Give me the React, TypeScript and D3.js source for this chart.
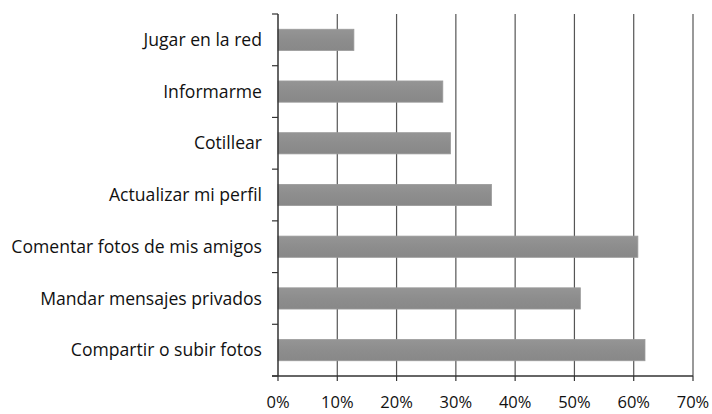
import React from "react";
import * as d3 from "d3";

const categories = [
  "Jugar en la red",
  "Informarme",
  "Cotillear",
  "Actualizar mi perfil",
  "Comentar fotos de mis amigos",
  "Mandar mensajes privados",
  "Compartir o subir fotos",
];
const values = [12.8, 27.8, 29.1, 36.0, 60.7, 51.0, 61.9];
const xTicks = [0, 10, 20, 30, 40, 50, 60, 70];

const W = 712;
const H = 414;
const margin = { left: 278, right: 19, top: 14, bottom: 38 };

export default function App() {
  const x = d3.scaleLinear().domain([0, 70]).range([margin.left, W - margin.right]);
  const y = d3
    .scaleBand<string>()
    .domain(categories)
    .range([margin.top, H - margin.bottom])
    .paddingInner(0.59)
    .paddingOuter(0.295);
  const step = y.step();
  const bottom = H - margin.bottom;
  const font = "'Open Sans', 'DejaVu Sans', sans-serif";

  return (
    <svg
      width={W}
      height={H}
      style={{ position: "absolute", left: 0, top: 0, background: "#fff" }}
    >
      <defs>
        <linearGradient id="barg" x1="0" y1="0" x2="0" y2="1">
          <stop offset="0" stopColor="#959595" />
          <stop offset="0.5" stopColor="#8d8d8d" />
          <stop offset="1" stopColor="#888888" />
        </linearGradient>
      </defs>
      {/* gridlines */}
      {xTicks.slice(1).map((t) => (
        <line
          key={"g" + t}
          x1={x(t)}
          x2={x(t)}
          y1={margin.top}
          y2={bottom}
          stroke="#555"
          strokeWidth={1.2}
        />
      ))}
      {/* bars */}
      {categories.map((c, i) => (
        <rect
          key={c}
          x={x(0)}
          y={y(c)!}
          width={x(values[i]) - x(0)}
          height={y.bandwidth()}
          fill="url(#barg)"
          stroke="#9a9a9a"
          strokeWidth={0.8}
        />
      ))}
      {/* y axis */}
      <line x1={x(0)} x2={x(0)} y1={margin.top} y2={bottom} stroke="#333" strokeWidth={1.5} />
      {d3.range(categories.length + 1).map((i) => {
        const yy = margin.top + i * step;
        return (
          <line key={"yt" + i} x1={x(0) - 6} x2={x(0)} y1={yy} y2={yy} stroke="#333" strokeWidth={1.2} />
        );
      })}
      {/* x axis */}
      <line x1={x(0) - 6} x2={x(70)} y1={bottom} y2={bottom} stroke="#333" strokeWidth={1.3} />
      {xTicks.map((t) => (
        <line key={"xt" + t} x1={x(t)} x2={x(t)} y1={bottom} y2={bottom + 5} stroke="#333" strokeWidth={1.2} />
      ))}
      {xTicks.map((t) => (
        <text
          key={"xl" + t}
          x={x(t)}
          y={bottom + 32}
          textAnchor="middle"
          fontFamily={font}
          fontSize={16.5}
          fill="#111"
        >
          {t + "%"}
        </text>
      ))}
      {categories.map((c) => (
        <text
          key={"l" + c}
          x={262}
          y={y(c)! + y.bandwidth() / 2}
          dy="0.35em"
          textAnchor="end"
          fontFamily={font}
          fontSize={17.6}
          fill="#111"
        >
          {c}
        </text>
      ))}
    </svg>
  );
}
